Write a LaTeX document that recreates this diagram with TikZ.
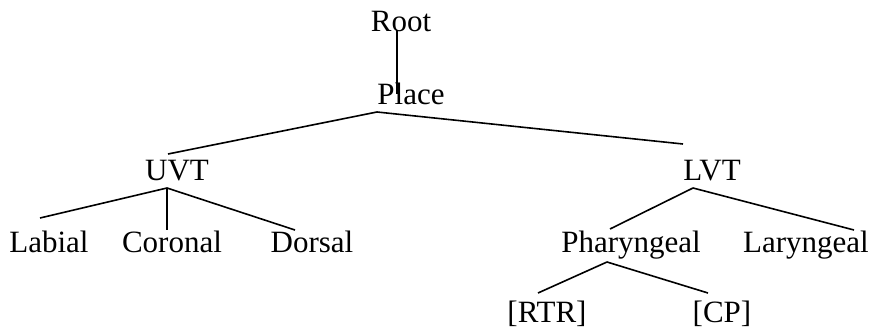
\documentclass[tikz,border=0pt]{standalone}
\usepackage{fontspec}
\setmainfont{Liberation Serif}
\begin{document}
\begin{tikzpicture}[x=1pt,y=-1pt,
  lbl/.style={anchor=base,inner sep=0pt,font=\fontsize{31}{36}\selectfont},
  edge/.style={line width=1.6pt}]
\useasboundingbox (0,0) rectangle (881,334);
\node[lbl] (root) at (401,32) {Root};
\node[lbl] (place) at (411,105) {Place};
\node[lbl] (uvt) at (177,180) {UVT};
\node[lbl] (lvt) at (712,180) {LVT};
\node[lbl] (labial) at (49,252) {Labial};
\node[lbl] (coronal) at (172,252) {Coronal};
\node[lbl] (dorsal) at (312,252) {Dorsal};
\node[lbl] (phar) at (631,252) {Pharyngeal};
\node[lbl] (lar) at (806,252) {Laryngeal};
\node[lbl] (rtr) at (547,322) {[RTR]};
\node[lbl] (cp) at (722,322) {[CP]};
% attachment points
\coordinate (root-b) at (397,30);
\coordinate (place-t) at (397,94);
\coordinate (place-b) at (377,112);
\coordinate (uvt-t) at (168,154);
\coordinate (lvt-t) at (683,144);
\coordinate (uvt-b) at (167,188);
\coordinate (labial-t) at (40,218);
\coordinate (coronal-t) at (167,230);
\coordinate (dorsal-t) at (295,230);
\coordinate (lvt-b) at (693,188);
\coordinate (phar-t) at (610,229);
\coordinate (lar-t) at (854,230);
\coordinate (phar-b) at (607,262);
\coordinate (rtr-t) at (538,293);
\coordinate (cp-t) at (708,293);
\draw[edge] (root-b) -- (place-t);
\draw[edge] (place-b) -- (uvt-t);
\draw[edge] (place-b) -- (lvt-t);
\draw[edge] (uvt-b) -- (labial-t);
\draw[edge] (uvt-b) -- (coronal-t);
\draw[edge] (uvt-b) -- (dorsal-t);
\draw[edge] (lvt-b) -- (phar-t);
\draw[edge] (lvt-b) -- (lar-t);
\draw[edge] (phar-b) -- (rtr-t);
\draw[edge] (phar-b) -- (cp-t);
\end{tikzpicture}
\end{document}
